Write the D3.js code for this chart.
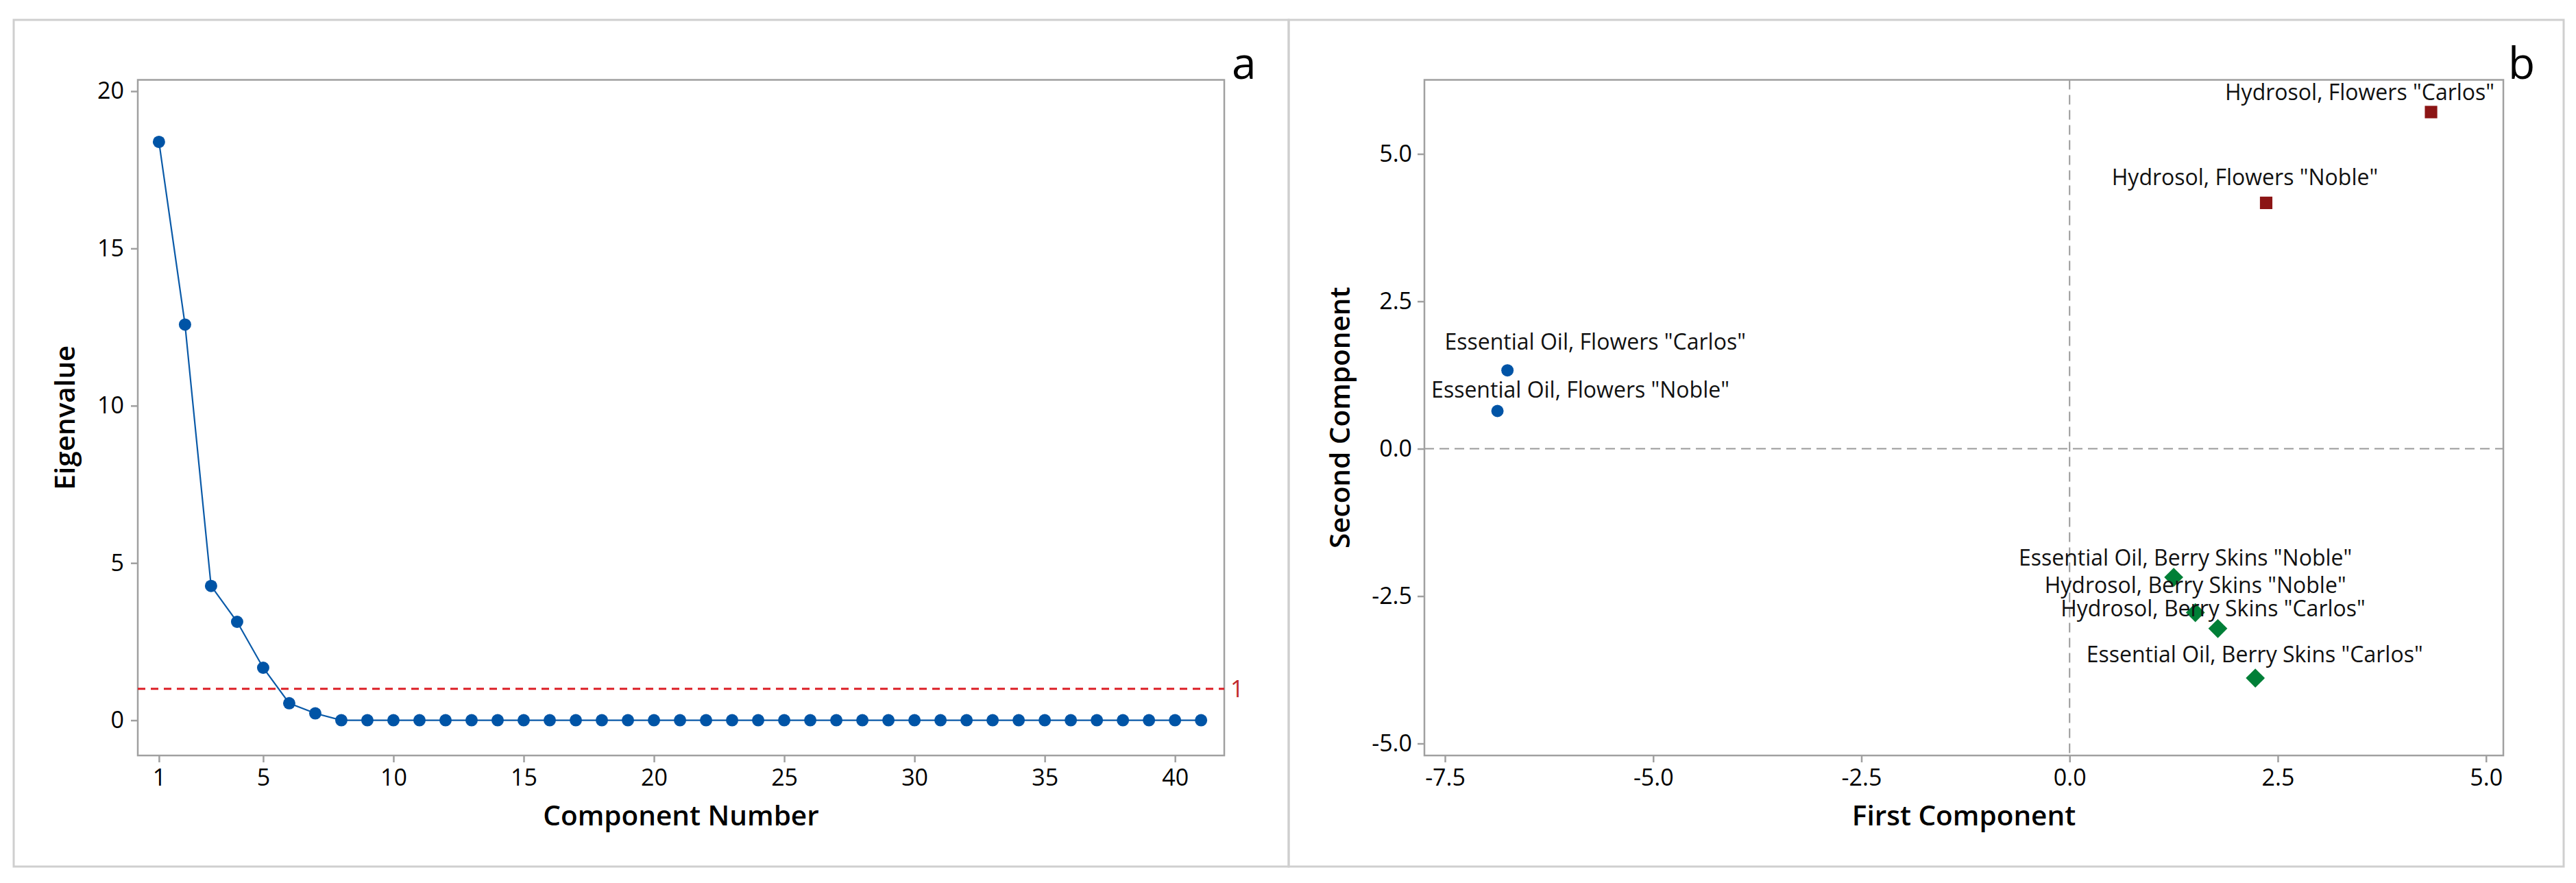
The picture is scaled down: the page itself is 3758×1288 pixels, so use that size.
<!DOCTYPE html>
<html>
<head>
<meta charset="utf-8">
<script src="https://cdn.jsdelivr.net/npm/d3@7"></script>
<style>
  body { margin: 0; background: #fff; }
</style>
</head>
<body>
<svg id="chart" width="3758" height="1288"></svg>
<script>
// scree plot data (panel a)
const components = [1, 2, 3, 4, 5, 6, 7, 8, 9, 10, 11, 12, 13, 14, 15, 16, 17, 18, 19, 20,
  21, 22, 23, 24, 25, 26, 27, 28, 29, 30, 31, 32, 33, 34, 35, 36, 37, 38, 39, 40, 41];
const eigenvalues = [18.39, 12.58, 4.27, 3.13, 1.67, 0.54, 0.22, 0, 0, 0, 0, 0, 0, 0, 0, 0, 0, 0, 0, 0,
  0, 0, 0, 0, 0, 0, 0, 0, 0, 0, 0, 0, 0, 0, 0, 0, 0, 0, 0, 0, 0];
const componentTicks = [1, 5, 10, 15, 20, 25, 30, 35, 40];
const eigenTicks = [0, 5, 10, 15, 20];
const cutoff = 1;

// score plot data (panel b)
const sampleNames = [
  'Essential Oil, Flowers "Carlos"',
  'Essential Oil, Flowers "Noble"',
  'Hydrosol, Flowers "Carlos"',
  'Hydrosol, Flowers "Noble"',
  'Essential Oil, Berry Skins "Noble"',
  'Hydrosol, Berry Skins "Noble"',
  'Hydrosol, Berry Skins "Carlos"',
  'Essential Oil, Berry Skins "Carlos"'
];
const firstComponent = [-6.75, -6.87, 4.34, 2.36, 1.25, 1.51, 1.78, 2.23];
const secondComponent = [1.33, 0.64, 5.71, 4.17, -2.18, -2.78, -3.05, -3.89];
const sampleGroup = ["oilFlower", "oilFlower", "hydroFlower", "hydroFlower", "berry", "berry", "berry", "berry"];
const firstTicks = [-7.5, -5, -2.5, 0, 2.5, 5];
const secondTicks = [-5, -2.5, 0, 2.5, 5];

const FONT = '"Open Sans", "Noto Sans", sans-serif';
const svg = d3.select("#chart");

svg.append("rect").attr("width", 3758).attr("height", 1288).attr("fill", "#fff");

// the two panel boxes
[20, 1880].forEach(x => {
  svg.append("rect")
    .attr("x", x).attr("y", 29)
    .attr("width", 1860).attr("height", 1235)
    .attr("fill", "none").attr("stroke", "#cfcfcf").attr("stroke-width", 3);
});

// plain hyphen for negatives, like the original
const oneDecimal = d => d.toFixed(1);

function styleAxis(g) {
  g.attr("font-size", 34).attr("font-family", FONT);
  g.select(".domain").remove();
  g.selectAll(".tick line").attr("stroke", "#a0a0a0").attr("stroke-width", 2.5);
  g.selectAll(".tick text").attr("fill", "#000");
}

function frame(box) {
  svg.append("rect")
    .attr("x", box.left).attr("y", box.top)
    .attr("width", box.right - box.left).attr("height", box.bottom - box.top)
    .attr("fill", "none").attr("stroke", "#a0a0a0").attr("stroke-width", 2.5);
}

function titles(box, xTitle, yTitle, yTitleX, letter, letterX) {
  svg.append("text")
    .attr("x", (box.left + box.right) / 2).attr("y", 1204)
    .attr("text-anchor", "middle")
    .attr("font-family", FONT).attr("font-size", 40.5).attr("font-weight", 600)
    .text(xTitle);
  svg.append("text")
    .attr("transform", `translate(${yTitleX},${(box.top + box.bottom) / 2}) rotate(-90)`)
    .attr("text-anchor", "middle")
    .attr("font-family", FONT).attr("font-size", 40.5).attr("font-weight", 600)
    .text(yTitle);
  svg.append("text")
    .attr("x", letterX).attr("y", 115)
    .attr("font-family", FONT).attr("font-size", 64)
    .text(letter);
}

// ---------- panel a: scree plot ----------
const boxA = { left: 201, right: 1786, top: 116.5, bottom: 1102 };
const xA = d3.scaleLinear().domain([0.187, 41.89]).range([boxA.left, boxA.right]);
const yA = d3.scaleLinear().domain([-1.12, 20.36]).range([boxA.bottom, boxA.top]);

svg.append("g")
  .attr("transform", `translate(0,${boxA.bottom})`)
  .call(d3.axisBottom(xA).tickValues(componentTicks).tickSize(10).tickPadding(10))
  .call(styleAxis);
svg.append("g")
  .attr("transform", `translate(${boxA.left},0)`)
  .call(d3.axisLeft(yA).tickValues(eigenTicks).tickSize(10).tickPadding(10))
  .call(styleAxis);
frame(boxA);

svg.append("line")
  .attr("x1", boxA.left).attr("x2", boxA.right)
  .attr("y1", yA(cutoff)).attr("y2", yA(cutoff))
  .attr("stroke", "#dc1f26").attr("stroke-width", 3).attr("stroke-dasharray", "11,8");
svg.append("text")
  .attr("x", boxA.right + 9).attr("y", yA(cutoff))
  .attr("dy", "0.36em")
  .attr("font-family", FONT).attr("font-size", 34).attr("fill", "#c0282d")
  .text(cutoff);

const scree = components.map((c, i) => ({ c: c, v: eigenvalues[i] }));
svg.append("path")
  .datum(scree)
  .attr("fill", "none").attr("stroke", "#0a5aa8").attr("stroke-width", 2.2)
  .attr("d", d3.line().x(d => xA(d.c)).y(d => yA(d.v)));
svg.append("g").selectAll("circle")
  .data(scree)
  .enter().append("circle")
  .attr("cx", d => xA(d.c)).attr("cy", d => yA(d.v))
  .attr("r", 9).attr("fill", "#0054a6");

titles(boxA, "Component Number", "Eigenvalue", 109, "a", 1797);

// ---------- panel b: score plot ----------
const boxB = { left: 2078, right: 3652, top: 116.5, bottom: 1102 };
const xB = d3.scaleLinear().domain([-7.747, 5.208]).range([boxB.left, boxB.right]);
const yB = d3.scaleLinear().domain([-5.203, 6.256]).range([boxB.bottom, boxB.top]);

svg.append("g")
  .attr("transform", `translate(0,${boxB.bottom})`)
  .call(d3.axisBottom(xB).tickValues(firstTicks).tickFormat(oneDecimal).tickSize(10).tickPadding(10))
  .call(styleAxis);
svg.append("g")
  .attr("transform", `translate(${boxB.left},0)`)
  .call(d3.axisLeft(yB).tickValues(secondTicks).tickFormat(oneDecimal).tickSize(10).tickPadding(8))
  .call(styleAxis);

// zero reference lines
svg.append("line")
  .attr("x1", xB(0)).attr("x2", xB(0)).attr("y1", boxB.top).attr("y2", boxB.bottom)
  .attr("stroke", "#9a9a9a").attr("stroke-width", 2).attr("stroke-dasharray", "14,8");
svg.append("line")
  .attr("x1", boxB.left).attr("x2", boxB.right).attr("y1", yB(0)).attr("y2", yB(0))
  .attr("stroke", "#9a9a9a").attr("stroke-width", 2).attr("stroke-dasharray", "14,8");
frame(boxB);

const groupStyle = {
  oilFlower: { shape: d3.symbolCircle, size: 254, color: "#0054a6", rotate: 0 },
  hydroFlower: { shape: d3.symbolSquare, size: 330, color: "#8c1515", rotate: 0 },
  berry: { shape: d3.symbolSquare, size: 385, color: "#007f37", rotate: 45 }
};
// where each label sits relative to its point (px)
const labelShift = [[128, -30], [121, -19], [-104, -17], [-31, -26], [17, -17], [0, -29], [-7, -18], [-1, -23]];

const scores = sampleNames.map((n, i) => ({
  name: n, x: firstComponent[i], y: secondComponent[i], group: sampleGroup[i], shift: labelShift[i]
}));

svg.append("g").selectAll("path")
  .data(scores)
  .enter().append("path")
  .attr("transform", d => `translate(${xB(d.x)},${yB(d.y)}) rotate(${groupStyle[d.group].rotate})`)
  .attr("d", d => d3.symbol().type(groupStyle[d.group].shape).size(groupStyle[d.group].size)())
  .attr("fill", d => groupStyle[d.group].color);

svg.append("g").selectAll("text")
  .data(scores)
  .enter().append("text")
  .attr("x", d => xB(d.x) + d.shift[0])
  .attr("y", d => yB(d.y) + d.shift[1])
  .attr("text-anchor", "middle")
  .attr("font-family", FONT).attr("font-size", 32).attr("fill", "#111")
  .text(d => d.name);

titles(boxB, "First Component", "Second Component", 1969, "b", 3659);
</script>
</body>
</html>
